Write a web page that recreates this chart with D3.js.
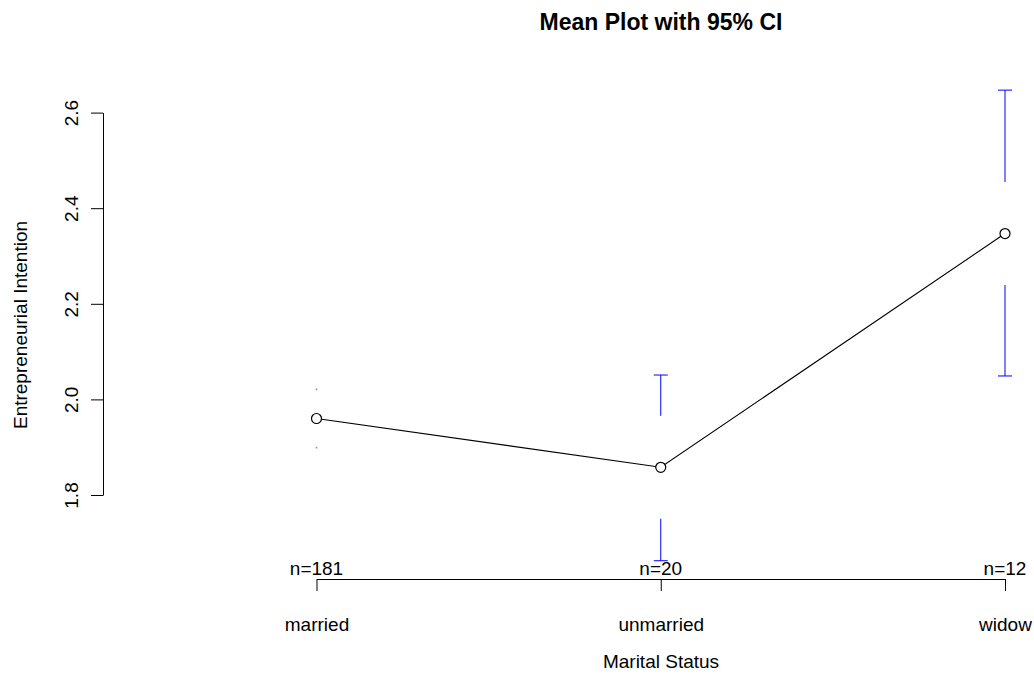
<!DOCTYPE html>
<html>
<head>
<meta charset="utf-8">
<script src="https://cdn.jsdelivr.net/npm/d3@7"></script>
<style>
  html, body { margin: 0; padding: 0; background: #fff; }
  svg { display: block; font-family: "Liberation Sans", Arial, Helvetica, sans-serif; }
</style>
</head>
<body>
<svg id="chart" width="1034" height="674"></svg>
<script>
// ---- data ----
const categories = ["married", "unmarried", "widow"];
const means      = [1.960, 1.858, 2.347];
const ciLower    = [1.899, 1.6625, 2.049];
const ciUpper    = [2.021, 2.051, 2.647];
const counts     = [181, 20, 12];
const yTicks     = [1.8, 2.0, 2.2, 2.4, 2.6];
const titleText  = "Mean Plot with 95% CI";
const xLabel     = "Marital Status";
const yLabel     = "Entrepreneurial Intention";

// ---- layout ----
const W = 1034, H = 674;
const axisX = 103, axisY = 579;
const svg = d3.select("#chart");
svg.append("rect").attr("width", W).attr("height", H).attr("fill", "#fff");

const x = d3.scalePoint().domain(categories).range([316.5, 1005]);
const y = d3.scaleLinear().domain([1.8, 2.6]).range([495, 112.6]);

// ---- y axis ----
const yAxis = svg.append("g")
  .attr("transform", `translate(${axisX},0)`)
  .call(d3.axisLeft(y).tickValues(yTicks).tickFormat(d3.format(".1f")).tickSize(12).tickSizeOuter(0));
yAxis.selectAll("path, line").attr("stroke", "#000");
yAxis.selectAll("text")
  .attr("transform", "rotate(-90)")
  .attr("x", 0).attr("y", -25).attr("dy", 0)
  .attr("text-anchor", "middle")
  .attr("fill", "#000")
  .style("font-size", "19px")
  .style("font-family", "'Liberation Sans', Arial, sans-serif");

// ---- x axis ----
const xAxis = svg.append("g")
  .attr("transform", `translate(0,${axisY})`)
  .call(d3.axisBottom(x).tickSize(12).tickSizeOuter(0));
xAxis.selectAll("path, line").attr("stroke", "#000");
xAxis.selectAll("text")
  .attr("y", 52).attr("dy", 0)
  .attr("fill", "#000")
  .style("font-size", "19px")
  .style("font-family", "'Liberation Sans', Arial, sans-serif");

// ---- n labels ----
svg.append("g").selectAll("text")
  .data(categories)
  .join("text")
  .attr("x", d => x(d))
  .attr("y", 575)
  .attr("text-anchor", "middle")
  .style("font-size", "19px")
  .attr("fill", "#000")
  .text((d, i) => "n=" + counts[i]);

// ---- error bars ----
const gapPx = 51.5, capHalf = 7;
const eb = svg.append("g").attr("stroke", "#0000ff").attr("stroke-width", 1).attr("fill", "none");
categories.forEach((c, i) => {
  const cx = x(c), my = y(means[i]);
  const yu = y(ciUpper[i]), yl = y(ciLower[i]);
  // upper
  const uEnd = Math.max(my - gapPx, yu);
  if (uEnd - yu > 0.5) {
    eb.append("line").attr("x1", cx).attr("x2", cx).attr("y1", yu).attr("y2", uEnd);
    eb.append("line").attr("x1", cx - capHalf).attr("x2", cx + capHalf).attr("y1", yu).attr("y2", yu);
  } else {
    svg.append("rect").attr("x", cx - 0.8).attr("y", yu - 0.8).attr("width", 1.6).attr("height", 1.6).attr("fill", "#8080ff");
  }
  // lower
  const lEnd = Math.min(my + gapPx, yl);
  if (yl - lEnd > 0.5) {
    eb.append("line").attr("x1", cx).attr("x2", cx).attr("y1", lEnd).attr("y2", yl);
    eb.append("line").attr("x1", cx - capHalf).attr("x2", cx + capHalf).attr("y1", yl).attr("y2", yl);
  } else {
    svg.append("rect").attr("x", cx - 0.8).attr("y", yl - 0.8).attr("width", 1.6).attr("height", 1.6).attr("fill", "#8080ff");
  }
});

// ---- mean line and points ----
const line = d3.line().x((d, i) => x(categories[i])).y(d => y(d));
svg.append("path").datum(means).attr("d", line)
  .attr("fill", "none").attr("stroke", "#000").attr("stroke-width", 1.1);
svg.append("g").selectAll("circle")
  .data(means)
  .join("circle")
  .attr("cx", (d, i) => x(categories[i]))
  .attr("cy", d => y(d))
  .attr("r", 5)
  .attr("fill", "#fff")
  .attr("stroke", "#000")
  .attr("stroke-width", 1.2);

// ---- titles ----
svg.append("text").attr("x", 661).attr("y", 30).attr("text-anchor", "middle")
  .style("font-size", "23px").style("font-weight", "bold").attr("fill", "#000").text(titleText);
svg.append("text").attr("x", 661).attr("y", 668).attr("text-anchor", "middle")
  .style("font-size", "19px").attr("fill", "#000").text(xLabel);
svg.append("text").attr("transform", "translate(27,325) rotate(-90)").attr("text-anchor", "middle")
  .style("font-size", "19px").attr("fill", "#000").text(yLabel);
</script>
</body>
</html>
